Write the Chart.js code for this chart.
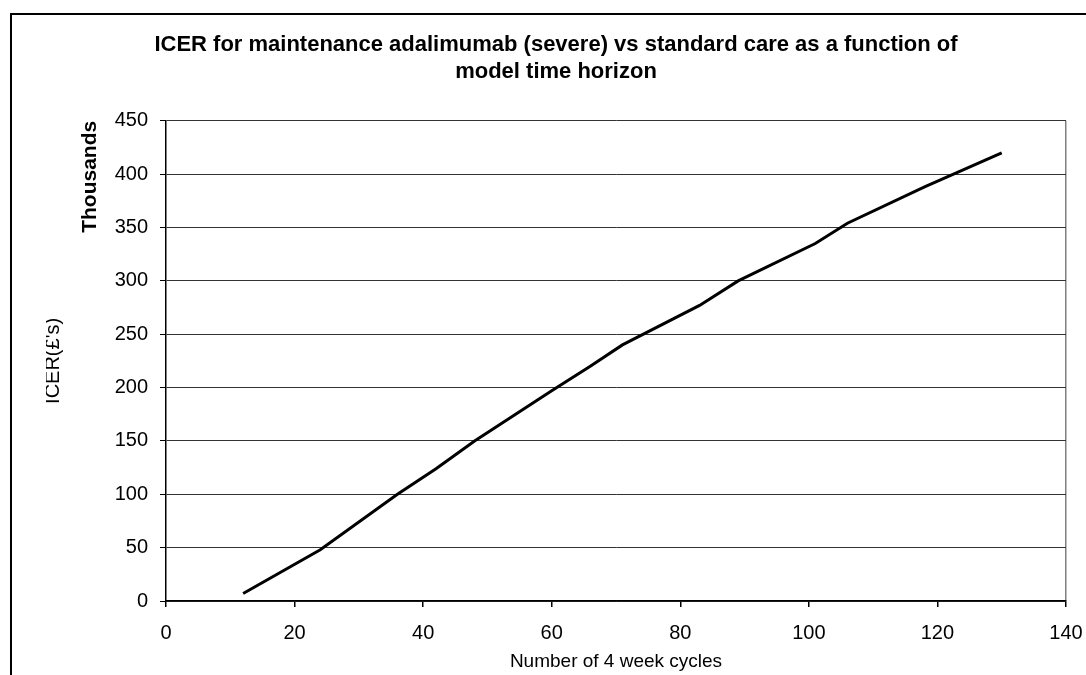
<!DOCTYPE html>
<html>
<head>
<meta charset="utf-8">
<script src="https://cdn.jsdelivr.net/npm/chart.js@4"></script>
<style>
  html, body { margin: 0; padding: 0; background: #fff; overflow: hidden; }
  #frame { position: absolute; left: 10px; top: 13px; width: 2000px; height: 2000px;
           border-left: 2px solid #000; border-top: 2px solid #000; }
  #wrap { position: absolute; left: 46px; top: 0; width: 1040px; height: 675px; }
</style>
</head>
<body>
<div id="frame"></div>
<div id="wrap"><canvas id="chart"></canvas></div>
<script>
// values (ICER in thousands of pounds)
let cycles = [12, 24, 36, 42, 48, 60, 66, 71, 83, 89, 101, 106, 118, 130];
let icer = [7, 48, 100, 124, 150, 197, 220, 240, 277, 300, 335, 354, 388, 420];

let xTicks = [0, 20, 40, 60, 80, 100, 120, 140];
let yTicks = [0, 50, 100, 150, 200, 250, 300, 350, 400, 450];

let titleLines = ["ICER for maintenance adalimumab (severe) vs standard care as a function of", "model time horizon"];
let fam = "'Liberation Sans', Arial, sans-serif";

// bold "Thousands" label next to the y axis
let thousandsLabel = {
  id: "thousands",
  afterDraw(chart) {
    let ctx = chart.ctx;
    let a = chart.chartArea;
    ctx.save();
    ctx.translate(a.left - 76, a.top + 56);
    ctx.rotate(-Math.PI / 2);
    ctx.font = "bold 21px " + fam;
    ctx.fillStyle = "#000";
    ctx.textAlign = "center";
    ctx.textBaseline = "middle";
    ctx.fillText("Thousands", 0, 0);
    ctx.restore();
  }
};

new Chart(document.getElementById("chart"), {
  type: "line",
  data: {
    datasets: [{
      data: cycles.map((c, i) => ({x: c, y: icer[i]})),
      borderColor: "#000",
      borderWidth: 3,
      pointRadius: 0,
      tension: 0,
      fill: false
    }]
  },
  options: {
    responsive: true,
    maintainAspectRatio: false,
    animation: false,
    layout: { padding: { left: 0, right: 20, top: 0, bottom: 0 } },
    plugins: {
      legend: { display: false },
      tooltip: { enabled: false },
      title: {
        display: true,
        text: titleLines,
        color: "#000",
        font: { family: fam, size: 22, weight: "bold", lineHeight: 1.2 },
        padding: { top: 32, bottom: 36 }
      }
    },
    scales: {
      x: {
        type: "linear",
        min: 0,
        max: 140,
        afterBuildTicks: s => { s.ticks = xTicks.map(v => ({value: v})); },
        afterFit: s => { s.height = 74; s.paddingLeft = 0; s.paddingRight = 0; },
        ticks: { color: "#000", font: { family: fam, size: 20 }, padding: 14, maxRotation: 0 },
        grid: {
          drawOnChartArea: true,
          color: c => (c.tick && c.tick.value === 140) ? "#808080" : "rgba(0,0,0,0)",
          tickColor: "#000",
          tickLength: 6,
          lineWidth: 1.5
        },
        border: { color: "#000", width: 1.5 },
        title: {
          display: true,
          text: "Number of 4 week cycles",
          color: "#000",
          font: { family: fam, size: 19 },
          padding: { top: 0, bottom: 2 }
        }
      },
      y: {
        type: "linear",
        min: 0,
        max: 450,
        afterBuildTicks: s => { s.ticks = yTicks.map(v => ({value: v})); },
        afterFit: s => { s.width = 120; },
        ticks: { color: "#000", font: { family: fam, size: 20 }, padding: 12 },
        grid: {
          color: "#333",
          tickColor: "#000",
          tickLength: 6,
          lineWidth: 1
        },
        border: { color: "#000", width: 1.5 },
        title: {
          display: true,
          text: "ICER(£'s)",
          color: "#000",
          font: { family: fam, size: 20 },
          padding: { top: -5, bottom: 0 }
        }
      }
    }
  },
  plugins: [thousandsLabel]
});
</script>
</body>
</html>
